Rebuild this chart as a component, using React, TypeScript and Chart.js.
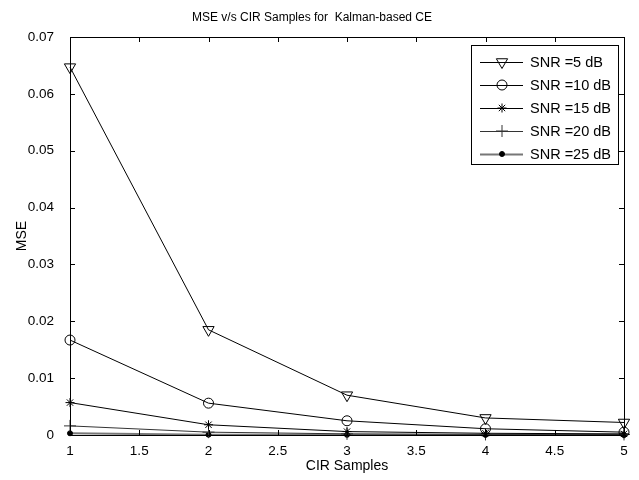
import React, { useEffect, useRef } from "react";
import { Chart, registerables } from "chart.js";

Chart.register(...registerables);

const cirSamples = [1, 2, 3, 4, 5];
const snr5 = [0.0647, 0.0185, 0.007, 0.003, 0.0022];
const snr10 = [0.0167, 0.0056, 0.0025, 0.0011, 0.0005];
const snr15 = [0.0057, 0.0018, 0.0006, 0.0003, 0.0002];
const snr20 = [0.0016, 0.0005, 0.0002, 0.0001, 0.0001];
const snr25 = [0.0003, 0.00005, 0.00003, 0.00002, 0.00001];
const seriesLabels = ["SNR =5 dB", "SNR =10 dB", "SNR =15 dB", "SNR =20 dB", "SNR =25 dB"];
const xTickValues = [1, 1.5, 2, 2.5, 3, 3.5, 4, 4.5, 5];
const yTickValues = [0, 0.01, 0.02, 0.03, 0.04, 0.05, 0.06, 0.07];

const FONT = "'Liberation Sans', Arial, Helvetica, sans-serif";

function drawMarker(ctx: CanvasRenderingContext2D, style: string, r: number, rotDeg: number, x: number, y: number, fill: string, stroke: string) {
  const rot = (rotDeg * Math.PI) / 180;
  ctx.save();
  ctx.fillStyle = fill;
  ctx.strokeStyle = stroke;
  ctx.lineWidth = 1;
  ctx.beginPath();
  if (style === "triangle") {
    let a = rot;
    ctx.moveTo(x + Math.sin(a) * r, y - Math.cos(a) * r);
    a += (2 * Math.PI) / 3;
    ctx.lineTo(x + Math.sin(a) * r, y - Math.cos(a) * r);
    a += (2 * Math.PI) / 3;
    ctx.lineTo(x + Math.sin(a) * r, y - Math.cos(a) * r);
    ctx.closePath();
    ctx.fill();
    ctx.stroke();
  } else if (style === "circle") {
    ctx.arc(x, y, r, 0, Math.PI * 2);
    ctx.closePath();
    ctx.fill();
    ctx.stroke();
  } else if (style === "star" || style === "cross") {
    const angles = style === "star" ? [0, 45, 90, 135] : [0, 90];
    for (const d of angles) {
      const a = rot + (d * Math.PI) / 180;
      ctx.moveTo(x + Math.cos(a) * r, y + Math.sin(a) * r);
      ctx.lineTo(x - Math.cos(a) * r, y - Math.sin(a) * r);
    }
    ctx.stroke();
  }
  ctx.restore();
}

const framePlugin = {
  id: "matlabFrame",
  afterDatasetsDraw(chart: any) {
    const { ctx, chartArea } = chart;
    const { left, right, top, bottom } = chartArea;
    const xs = chart.scales.x;
    const ys = chart.scales.y;
    ctx.save();
    ctx.strokeStyle = "#000";
    ctx.lineWidth = 1;
    ctx.beginPath();
    ctx.rect(Math.round(left) + 0.5, Math.round(top) + 0.5, Math.round(right - left), Math.round(bottom - top));
    ctx.stroke();
    const tl = 5;
    ctx.beginPath();
    for (const v of xTickValues) {
      const px = Math.round(xs.getPixelForValue(v)) + 0.5;
      ctx.moveTo(px, bottom);
      ctx.lineTo(px, bottom - tl);
      ctx.moveTo(px, top);
      ctx.lineTo(px, top + tl);
    }
    for (const v of yTickValues) {
      const py = Math.round(ys.getPixelForValue(v)) + 0.5;
      ctx.moveTo(left, py);
      ctx.lineTo(left + tl, py);
      ctx.moveTo(right, py);
      ctx.lineTo(right - tl, py);
    }
    ctx.stroke();

    // legend box
    const bx = right - 153;
    const by = top + 8;
    const bw = 147;
    const rowH = 23;
    const n = chart.data.datasets.length;
    const bh = rowH * n + 4;
    ctx.fillStyle = "#fff";
    ctx.fillRect(bx, by, bw, bh);
    ctx.strokeStyle = "#000";
    ctx.strokeRect(Math.round(bx) + 0.5, Math.round(by) + 0.5, bw, bh);
    ctx.font = "14.5px " + FONT;
    ctx.textBaseline = "middle";
    ctx.textAlign = "left";
    chart.data.datasets.forEach((ds: any, i: number) => {
      const cy = by + 17 + i * rowH;
      ctx.strokeStyle = ds.borderColor;
      ctx.lineWidth = ds.borderWidth;
      ctx.beginPath();
      ctx.moveTo(bx + 9, cy + 0.5);
      ctx.lineTo(bx + 52, cy + 0.5);
      ctx.stroke();
      drawMarker(ctx, ds.pointStyle, ds.pointRadius, ds.pointRotation || 0, bx + 31, cy, ds.pointBackgroundColor, ds.pointBorderColor);
      ctx.fillStyle = "#000";
      ctx.fillText(ds.label, bx + 59, cy + 1);
    });
    ctx.restore();
  },
};

function makeData(values: number[]) {
  return cirSamples.map((x, i) => ({ x, y: values[i] }));
}

export default function App() {
  const canvasRef = useRef<HTMLCanvasElement | null>(null);

  useEffect(() => {
    if (!canvasRef.current) return;
    Chart.defaults.font.family = FONT;
    Chart.defaults.color = "#000";
    const common = {
      showLine: true,
      borderWidth: 1,
      pointBorderWidth: 1,
      tension: 0,
      clip: false as any,
    };
    const chart = new Chart(canvasRef.current, {
      type: "scatter",
      data: {
        datasets: [
          { ...common, label: seriesLabels[0], data: makeData(snr5), borderColor: "#000", pointBorderColor: "#000", pointBackgroundColor: "rgba(255,255,255,0)", pointStyle: "triangle", pointRotation: 180, pointRadius: 6.5 },
          { ...common, label: seriesLabels[1], data: makeData(snr10), borderColor: "#000", pointBorderColor: "#000", pointBackgroundColor: "rgba(255,255,255,0)", pointStyle: "circle", pointRadius: 5 },
          { ...common, label: seriesLabels[2], data: makeData(snr15), borderColor: "#000", pointBorderColor: "#000", pointBackgroundColor: "#000", pointStyle: "star", pointRadius: 4.5 },
          { ...common, label: seriesLabels[3], data: makeData(snr20), borderColor: "#333", pointBorderColor: "#333", pointBackgroundColor: "#333", pointStyle: "cross", pointRadius: 6 },
          { ...common, label: seriesLabels[4], data: makeData(snr25), borderColor: "#777", borderWidth: 2, pointBorderColor: "#000", pointBackgroundColor: "#000", pointStyle: "circle", pointRadius: 2.5 },
        ] as any,
      },
      options: {
        responsive: false,
        animation: false,
        layout: { padding: { left: 0, right: 15, top: 0, bottom: 0 } },
        plugins: {
          legend: { display: false },
          tooltip: { enabled: false },
          title: {
            display: true,
            text: "MSE v/s CIR Samples for  Kalman-based CE",
            color: "#000",
            font: { size: 12, weight: "normal", family: FONT },
            padding: { top: 10, bottom: 12.6 },
          },
        },
        scales: {
          x: {
            type: "linear",
            min: 1,
            max: 5,
            afterFit: (s: any) => { s.height = 45; },
            afterBuildTicks: (s: any) => { s.ticks = xTickValues.map((v) => ({ value: v })); },
            grid: { display: false, drawTicks: false },
            border: { display: false },
            ticks: {
              font: { size: 13.5, family: FONT },
              color: "#000",
              padding: 8,
              maxRotation: 0,
              autoSkip: false,
              callback: (v: any) => String(Number(Number(v).toFixed(1))),
            },
            title: {
              display: true,
              text: "CIR Samples",
              color: "#000",
              font: { size: 14, family: FONT },
              padding: { top: 0, bottom: 5 },
            },
          },
          y: {
            type: "linear",
            min: 0,
            max: 0.07,
            afterFit: (s: any) => { s.width = 70; },
            afterBuildTicks: (s: any) => { s.ticks = yTickValues.map((v) => ({ value: v })); },
            grid: { display: false, drawTicks: false },
            border: { display: false },
            ticks: {
              font: { size: 13.5, family: FONT },
              color: "#000",
              padding: 16,
              autoSkip: false,
              callback: (v: any) => String(Number(Number(v).toFixed(2))),
            },
            title: {
              display: true,
              text: "MSE",
              color: "#000",
              font: { size: 14, family: FONT },
              padding: { top: 14, bottom: 0 },
            },
          },
        },
      } as any,
      plugins: [framePlugin],
    });
    return () => chart.destroy();
  }, []);

  return (
    <div style={{ position: "fixed", left: 0, top: 0, width: 639, height: 480, background: "#fff" }}>
      <canvas ref={canvasRef} width={639} height={480} style={{ display: "block" }} />
    </div>
  );
}
